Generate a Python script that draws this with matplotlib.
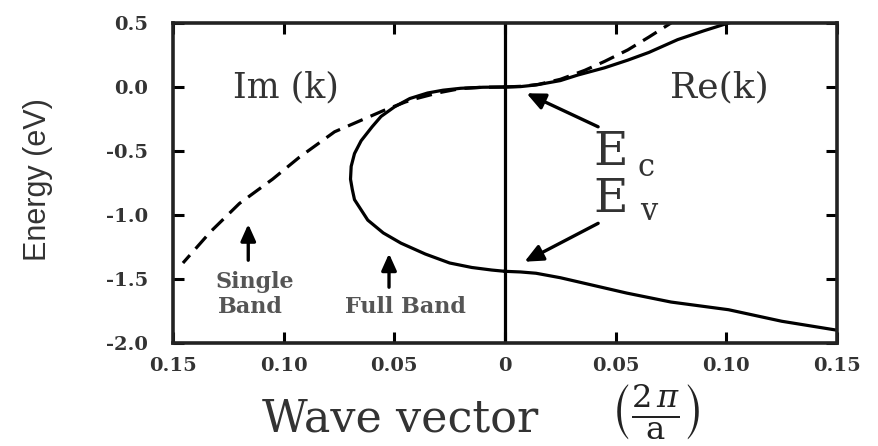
import matplotlib
matplotlib.use("Agg")
import matplotlib.pyplot as plt

# ---- data (k in units of 2pi/a, E in eV); negative k = Im(k) side ----
full_im_k = [0, -0.010, -0.020, -0.028, -0.035, -0.043, -0.050, -0.056, -0.060, -0.065,
             -0.068, -0.0695, -0.0698, -0.069, -0.068, -0.065, -0.062, -0.055, -0.047,
             -0.036, -0.025, -0.015, -0.006, 0]
full_im_E = [0, -0.002, -0.010, -0.025, -0.047, -0.090, -0.156, -0.230, -0.310, -0.420,
             -0.520, -0.620, -0.720, -0.800, -0.880, -0.960, -1.040, -1.140, -1.220,
             -1.305, -1.375, -1.410, -1.430, -1.440]

single_im_k = [0, -0.010, -0.020, -0.030, -0.040, -0.045, -0.055, -0.065, -0.077, -0.093,
               -0.105, -0.120, -0.133, -0.1455]
single_im_E = [0, -0.002, -0.012, -0.045, -0.090, -0.117, -0.185, -0.260, -0.350, -0.550,
               -0.720, -0.910, -1.130, -1.375]

cond_re_k = [0, 0.007, 0.014, 0.025, 0.033, 0.045, 0.0555, 0.065, 0.078, 0.090, 0.101]
cond_re_E = [0, 0.003, 0.016, 0.050, 0.094, 0.150, 0.210, 0.270, 0.370, 0.440, 0.500]

val_re_k = [0, 0.007, 0.014, 0.025, 0.035, 0.055, 0.075, 0.101, 0.125, 0.150]
val_re_E = [-1.44, -1.445, -1.455, -1.490, -1.530, -1.610, -1.680, -1.740, -1.830, -1.900]

single_re_k = [0, 0.008, 0.015, 0.025, 0.036, 0.045, 0.0555, 0.065, 0.075]
single_re_E = [0, 0.006, 0.020, 0.060, 0.130, 0.200, 0.290, 0.390, 0.500]

xticks = [-0.15, -0.10, -0.05, 0, 0.05, 0.10, 0.15]
xticklabels = ["0.15", "0.10", "0.05", "0", "0.05", "0.10", "0.15"]
yticks = [0.5, 0.0, -0.5, -1.0, -1.5, -2.0]
yticklabels = ["0.5", "0.0", "-0.5", "-1.0", "-1.5", "-2.0"]

plt.rcParams['font.family'] = ['DejaVu Serif']
plt.rcParams['mathtext.fontset'] = 'dejavuserif'

fig = plt.figure(figsize=(8.79, 4.46), dpi=100)
ax = fig.add_axes([173/879, 1-343/446, (837-173)/879, (343-23)/446])

lw = 2.3
dash = (0, (5, 2.7))
ax.plot(full_im_k, full_im_E, color='black', lw=lw)
ax.plot(cond_re_k, cond_re_E, color='black', lw=lw)
ax.plot(val_re_k, val_re_E, color='black', lw=lw)
ax.plot(single_im_k, single_im_E, color='black', lw=lw, linestyle=dash)
ax.plot(single_re_k, single_re_E, color='black', lw=lw, linestyle=dash)
ax.axvline(0, color='black', lw=lw)

ax.set_xlim(-0.15, 0.15)
ax.set_ylim(-2.0, 0.5)
ax.set_xticks(xticks)
ax.set_xticklabels(xticklabels, fontweight='bold', fontsize=14, color='#333333')
ax.set_yticks(yticks)
ax.set_yticklabels(yticklabels, fontweight='bold', fontsize=14, color='#333333')
ax.tick_params(axis='both', direction='in', length=8, width=2.2, top=True, right=True)
ax.tick_params(axis='y', pad=18)
ax.tick_params(axis='x', pad=10)
for s in ax.spines.values():
    s.set_linewidth(2.6)
    s.set_color('#222222')

ax.set_ylabel("Energy (eV)", fontsize=22, family=['Liberation Sans', 'DejaVu Sans'], color='#333333')
ax.yaxis.label.set_va('center')
ax.yaxis.set_label_coords((38-173)/664, (343-180)/320)

fig.text(400/879, 1-432/446, "Wave vector", fontsize=32, ha='center', va='baseline', color='#333333')
fig.text(655/879, 1-411/446, r"$\left(\frac{2\,\pi}{\mathrm{a}}\right)$", fontsize=33,
         ha='center', va='center', color='#222222')

ax.text(-0.099, 0.0, "Im (k)", fontsize=25, ha='center', va='center', color='#333333')
ax.text(0.097, 0.0, "Re(k)", fontsize=26, ha='center', va='center', color='#333333')

ax.text(0.0400, -0.51, "E", fontsize=34, ha='left', va='center', color='#333333')
ax.text(0.0600, -0.625, "c", fontsize=22, ha='left', va='center', color='#333333')
ax.text(0.0400, -0.88, "E", fontsize=34, ha='left', va='center', color='#333333')
ax.text(0.0610, -0.97, "v", fontsize=22, ha='left', va='center', color='#333333')

arrow = dict(arrowstyle='-|>,head_length=1.1,head_width=0.5', color='black', lw=2.4)
ax.annotate("", xy=(0.0086, -0.04), xytext=(0.0432, -0.32), arrowprops=arrow)
ax.annotate("", xy=(0.0077, -1.375), xytext=(0.0432, -1.055), arrowprops=arrow)
arrow2 = dict(arrowstyle='-|>,head_length=1.0,head_width=0.45', color='black', lw=2.4)
ax.annotate("", xy=(-0.116, -1.05), xytext=(-0.116, -1.375), arrowprops=arrow2)
ax.annotate("", xy=(-0.0524, -1.28), xytext=(-0.0524, -1.586), arrowprops=arrow2)

ax.text(-0.113, -1.52, "Single", fontsize=16, fontweight='bold', ha='center', va='center', color='#555555')
ax.text(-0.115, -1.72, "Band", fontsize=16, fontweight='bold', ha='center', va='center', color='#555555')
ax.text(-0.045, -1.72, "Full Band", fontsize=16, fontweight='bold', ha='center', va='center', color='#555555')

fig.savefig("out.png", dpi=100)
